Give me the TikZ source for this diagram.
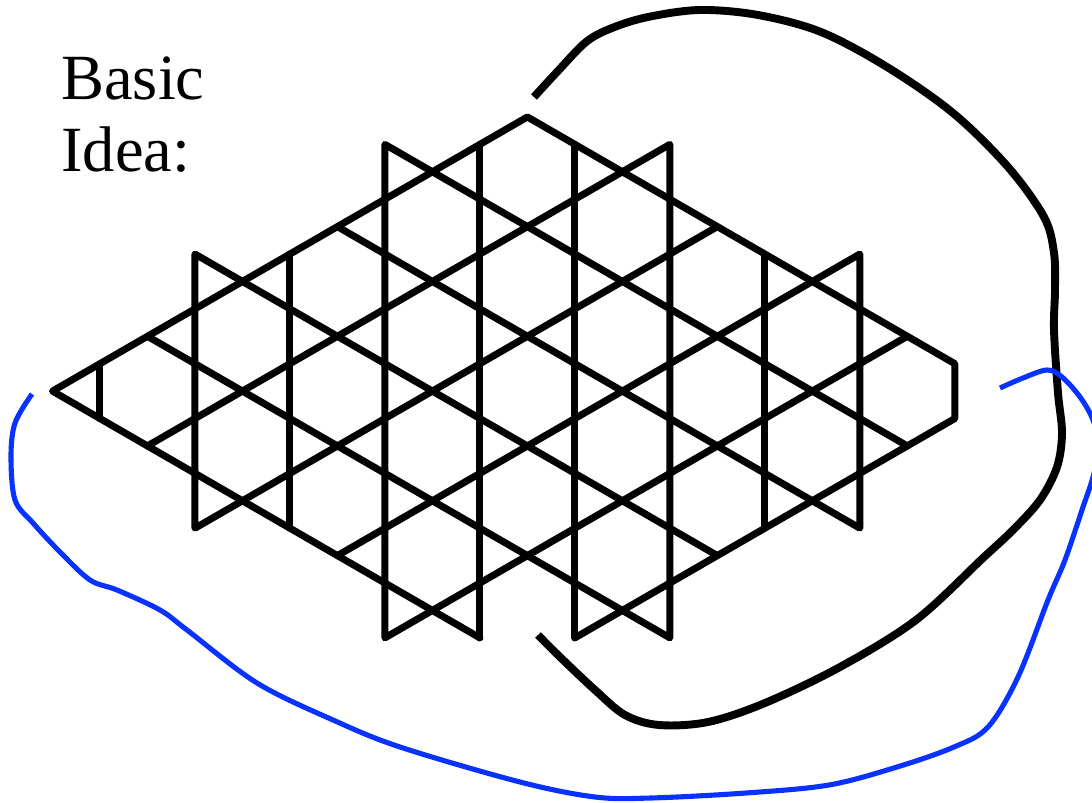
\documentclass[tikz,border=0pt]{standalone}
\usepackage{fontspec}
\setmainfont{Liberation Serif}
\definecolor{curveblue}{RGB}{10,50,255}
\begin{document}
\begin{tikzpicture}[x=0.02cm,y=-0.02cm,
  latt/.style={line width=4.0pt,line join=round,line cap=round},
  loopblack/.style={line width=4.5pt,black},
  loopblue/.style={line width=2.9pt,curveblue},
  lbl/.style={anchor=base west,inner sep=0pt,font=\fontsize{36.7pt}{42pt}\selectfont}]
\useasboundingbox (0,0) rectangle (1092,803);
% text
\node[lbl] (basic) at (61,100) {Basic};
\node[lbl] (idea) at (61,172) {Idea:};
% lattice
\begin{scope}[shift={(10.55cm,-2.34cm)},x={(0.95cm,0cm)},y={(0cm,0.5484cm)}]
  \draw[latt] (1,-19)--(9,-11)--(9,-9)--(0,0)--(-10,-10)--(-1,-19);
  \draw[latt] (4,-4)--(-7,-15)--(-7,-5)--(4,-16);
  \draw[latt] (8,-8)--(-3,-19)--(-3,-1)--(8,-12);
  \draw[latt] (-8,-12)--(3,-1)--(3,-19)--(-8,-8);
  \draw[latt] (-4,-16)--(7,-5)--(7,-15)--(-4,-4);
  \draw[latt] (-9,-9)--(-9,-11);
  \draw[latt] (-5,-5)--(-5,-15);
  \draw[latt] (-1,-1)--(-1,-19);
  \draw[latt] (1,-1)--(1,-19);
  \draw[latt] (5,-5)--(5,-15);
\end{scope}
% black loop
\draw[loopblack] plot[smooth,tension=0.55] coordinates {(534,97) (557,72) (586,42) (612,28) (648,17) (700,10) (758,15) (821,32) (887,67) (953,113) (1008,167) (1044,217) (1054,253) (1055,290) (1054,330) (1058,393) (1062,433) (1057,467) (1040,500) (1013,530) (983,558) (916,620) (840,667) (765,703) (708,722) (659,725) (625,715) (595,690) (560,657) (538,635)};
% blue loop
\begin{scope}
\clip (0,0) rectangle (1092,803);
\draw[loopblue] plot[smooth,tension=0.55] coordinates {(1000,388) (1023,378) (1047,370) (1062,377) (1080,397) (1093,420) (1099,447) (1093,477) (1083,507) (1065,560) (1048,600) (1018,677) (988,727) (954,747) (897,767) (829,785) (746,793) (651,798) (595,797) (520,782) (400,747) (333,720) (257,683) (187,630) (160,610) (117,590) (90,580) (60,552) (33,523) (15,500) (11,457) (15,423) (32,394)};
\end{scope}
\end{tikzpicture}
\end{document}
